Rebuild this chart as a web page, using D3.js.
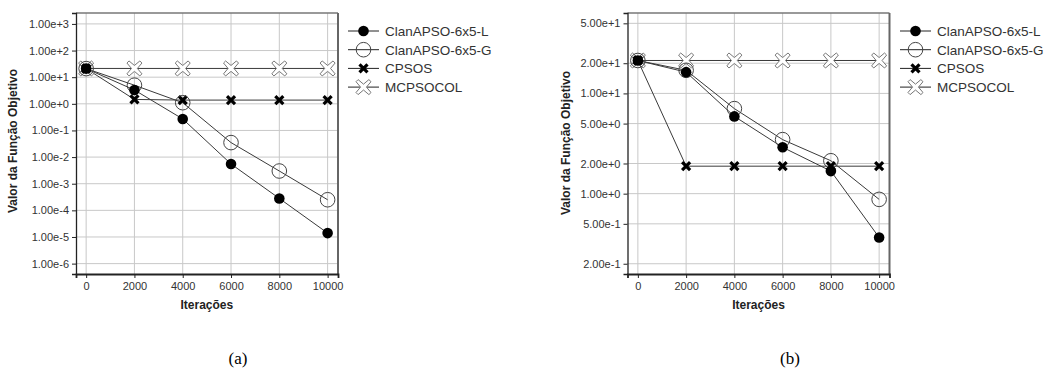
<!DOCTYPE html>
<html>
<head>
<meta charset="utf-8">
<script src="https://cdn.jsdelivr.net/npm/d3@7"></script>
<style>
  body { margin: 0; background: #fff; }
</style>
</head>
<body>
<svg width="1046" height="370" font-family='"Liberation Sans", Arial, sans-serif'></svg>
<script>
// values
const iterations = [0, 2000, 4000, 6000, 8000, 10000];
const seriesNames = ['ClanAPSO-6x5-L', 'ClanAPSO-6x5-G', 'CPSOS', 'MCPSOCOL'];

// panel (a)
const aClanL = [21, 3.3, 0.27, 0.0055, 2.8e-4, 1.4e-5];
const aClanG = [21, 5.0, 1.1, 0.035, 3.0e-3, 2.5e-4];
const aCpsos = [21, 1.46, 1.38, 1.38, 1.38, 1.38];
const aMcpsocol = [21.3, 21.3, 21.3, 21.3, 21.3, 21.3];
const aYTicks = [1e-6, 1e-5, 1e-4, 1e-3, 1e-2, 1e-1, 1e0, 1e1, 1e2, 1e3];

// panel (b)
const bClanL = [21.3, 16.3, 5.9, 2.9, 1.68, 0.366];
const bClanG = [21.3, 17, 7.05, 3.46, 2.13, 0.877];
const bCpsos = [21.3, 1.88, 1.88, 1.88, 1.88, 1.88];
const bMcpsocol = [21.3, 21.3, 21.3, 21.3, 21.3, 21.3];
const bYTicks = [0.2, 0.5, 1, 2, 5, 10, 20, 50];

const xTicks = [0, 2000, 4000, 6000, 8000, 10000];

const svg = d3.select('svg');
svg.append('rect').attr('width', 1046).attr('height', 370).attr('fill', '#fff');

const fmt = d3.format('.2e');

// hollow cross used for MCPSOCOL
const crossPath = (() => {
  const s = 7.5, w = 2.1;
  const pts = [
    [0, -w * 1.4], [s - w, -s], [s, -s + w], [w * 1.4, 0], [s, s - w], [s - w, s],
    [0, w * 1.4], [-s + w, s], [-s, s - w], [-w * 1.4, 0], [-s, -s + w], [-s + w, -s]
  ];
  return 'M' + pts.map(p => p.join(',')).join('L') + 'Z';
})();

function marker(sel, kind) {
  if (kind === 0) {
    sel.append('circle').attr('r', 5.3).attr('fill', '#000');
  } else if (kind === 1) {
    sel.append('circle').attr('r', 7.3).attr('fill', 'none')
      .attr('stroke', '#444').attr('stroke-width', 1);
  } else if (kind === 2) {
    sel.append('path').attr('d', 'M-4,-4L4,4M-4,4L4,-4')
      .attr('stroke', '#000').attr('stroke-width', 3.2);
  } else {
    sel.append('path').attr('d', crossPath).attr('fill', '#fff')
      .attr('stroke', '#777').attr('stroke-width', 1);
  }
}

function drawPanel(p) {
  const x = d3.scaleLinear().domain(p.xDomain).range([p.left, p.right]);
  const y = d3.scaleLog().domain(p.yDomain).range([p.bottom, p.top]);
  const g = svg.append('g');

  // grid
  g.append('g').selectAll('line').data(xTicks).join('line')
    .attr('x1', d => x(d)).attr('x2', d => x(d))
    .attr('y1', p.top).attr('y2', p.bottom)
    .attr('stroke', '#c8c8c8');
  g.append('g').selectAll('line').data(p.yTicks).join('line')
    .attr('x1', p.left).attr('x2', p.right)
    .attr('y1', d => y(d)).attr('y2', d => y(d))
    .attr('stroke', '#c8c8c8');

  // frame
  g.append('line').attr('x1', p.left).attr('x2', p.right).attr('y1', p.top).attr('y2', p.top)
    .attr('stroke', '#777').attr('stroke-width', 1.5);
  g.append('line').attr('x1', p.right).attr('x2', p.right).attr('y1', p.top).attr('y2', p.bottom)
    .attr('stroke', '#666').attr('stroke-width', 2);

  // axes
  const yAxis = g.append('g').attr('transform', `translate(${p.left},0)`)
    .call(d3.axisLeft(y).tickValues(p.yTicks).tickFormat(fmt).tickSize(4).tickPadding(3));
  const xAxis = g.append('g').attr('transform', `translate(0,${p.bottom})`)
    .call(d3.axisBottom(x).tickValues(xTicks).tickFormat(d3.format('d')).tickSize(4).tickPadding(4));
  [yAxis, xAxis].forEach(a => {
    a.attr('font-family', null).attr('font-size', null);
    a.select('.domain').attr('stroke', '#222').attr('stroke-width', 1.3);
    a.selectAll('line').attr('stroke', '#222');
    a.selectAll('text').attr('font-size', 11).attr('fill', '#333');
  });
  xAxis.select('.domain').attr('stroke-width', 1.8);

  // axis titles
  g.append('text')
    .attr('transform', `translate(${p.yTitleX},${p.yTitleY}) rotate(-90)`)
    .attr('text-anchor', 'middle').attr('font-size', 12).attr('font-weight', 'bold')
    .attr('fill', '#222').text('Valor da Função Objetivo');
  g.append('text')
    .attr('x', (x(0) + x(10000)) / 2).attr('y', 309)
    .attr('text-anchor', 'middle').attr('font-size', 12).attr('font-weight', 'bold')
    .attr('fill', '#222').text('Iterações');

  // series lines
  const line = d3.line().x((d, i) => x(iterations[i])).y(d => y(d));
  const order = [3, 2, 1, 0];
  order.forEach(k => {
    g.append('path').datum(p.series[k]).attr('d', line)
      .attr('fill', 'none').attr('stroke', '#3a3a3a').attr('stroke-width', 1);
  });
  order.forEach(k => {
    g.append('g').selectAll('g').data(p.series[k]).join('g')
      .attr('transform', (d, i) => `translate(${x(iterations[i])},${y(d)})`)
      .each(function () { marker(d3.select(this), k); });
  });

  // legend
  const leg = g.append('g').attr('transform', `translate(${p.legendX},31)`);
  seriesNames.forEach((name, k) => {
    const row = leg.append('g').attr('transform', `translate(0,${k * 18.7})`);
    row.append('line').attr('x1', 0).attr('x2', 31).attr('stroke', '#222');
    marker(row.append('g').attr('transform', 'translate(15.5,0)'), k);
    row.append('text').attr('x', 37).attr('y', 4.8).attr('font-size', 13.5)
      .attr('fill', '#333').text(name);
  });

  // caption
  svg.append('text').attr('x', p.captionX).attr('y', 364)
    .attr('text-anchor', 'middle').attr('font-size', 17)
    .attr('font-family', '"Liberation Serif", "Times New Roman", serif')
    .attr('fill', '#000').text(p.caption);
}

drawPanel({
  left: 76, right: 338, top: 13, bottom: 274,
  xDomain: [-420, 10430],
  yDomain: [Math.pow(10, -6.39), Math.pow(10, 3.41)],
  yTicks: aYTicks,
  series: [aClanL, aClanG, aCpsos, aMcpsocol],
  yTitleX: 17, yTitleY: 141,
  legendX: 348, captionX: 238, caption: '(a)'
});

drawPanel({
  left: 627.5, right: 889.5, top: 13, bottom: 274,
  xDomain: [-430, 10430],
  yDomain: [0.158, 63.4],
  yTicks: bYTicks,
  series: [bClanL, bClanG, bCpsos, bMcpsocol],
  yTitleX: 570, yTitleY: 143,
  legendX: 900, captionX: 790, caption: '(b)'
});
</script>
</body>
</html>
